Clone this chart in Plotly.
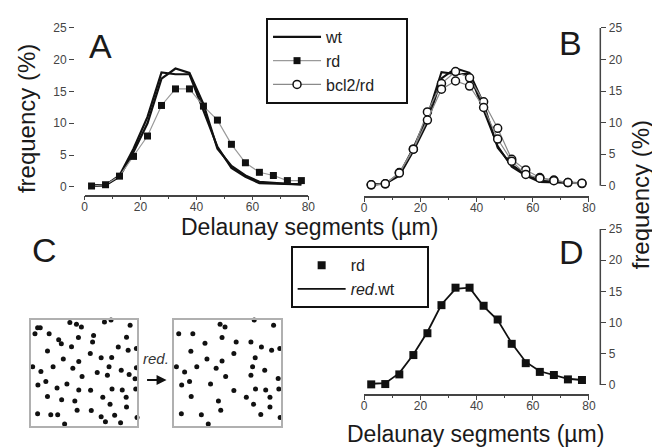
import plotly.graph_objects as go

# The page body keeps an 8px margin, so the figure is drawn 8px in from the
# window's top-left corner; positions below are given in window pixels.
OFF = 8
W, H = 660 - OFF, 448 - OFF


def px(x):
    return (x - OFF) / W


def py(y):
    return 1 - (y - OFF) / H


FONT = "Arial, Liberation Sans, Helvetica, sans-serif"

# ---- data ----
seg_x = [2.5, 7.5, 12.5, 17.5, 22.5, 27.5, 32.5, 37.5,
         42.5, 47.5, 52.5, 57.5, 62.5, 67.5, 72.5, 77.5]

wt_1 = [0.2, 0.3, 1.8, 6.0, 11.0, 18.0, 17.7, 17.7, 12.0, 6.3, 3.0, 1.6, 0.6, 0.5, 0.4, 0.4]
wt_2 = [0.2, 0.3, 1.6, 5.5, 10.0, 17.0, 18.6, 17.9, 13.0, 6.0, 3.3, 1.8, 0.8, 0.6, 0.5, 0.4]

rd_a = [0.15, 0.35, 1.7, 4.8, 8.0, 12.8, 15.4, 15.4, 12.7, 10.5, 6.7, 3.8, 2.3, 1.8, 1.0, 1.0]

bcl2_1 = [0.15, 0.3, 2.1, 5.8, 11.7, 16.2, 18.1, 17.1, 13.3, 9.1, 4.2, 2.5, 1.3, 0.9, 0.5, 0.35]
bcl2_2 = [0.15, 0.3, 2.0, 5.8, 10.4, 15.3, 16.6, 15.8, 12.4, 7.4, 3.9, 1.8, 1.2, 0.8, 0.5, 0.4]

rd_d = [0.1, 0.15, 1.7, 4.8, 8.3, 12.8, 15.6, 15.6, 12.7, 10.5, 6.6, 3.5, 2.1, 1.6, 0.9, 0.8]
red_wt = [0.2, 0.3, 1.9, 4.9, 8.5, 12.9, 15.4, 15.6, 12.6, 10.4, 6.7, 3.7, 2.2, 1.6, 1.0, 0.8]

x_ticks = [0, 20, 40, 60, 80]
x_minor = [10, 30, 50, 70]
y_ticks = [0, 5, 10, 15, 20, 25]

# panel C: cell positions in the two fields (image units, y downwards)
full_x = [33, 41, 25, 68, 131, 151, 166, 236, 256, 314,
          97, 105, 157, 203, 200, 303,
          63, 136, 278, 308, 333,
          193, 226, 258, 111, 158,
          18, 80, 140, 250, 287, 333,
          43, 214, 245, 311, 329, 168,
          58, 122, 34, 92, 158, 194, 259, 290, 331,
          63, 231, 302, 106, 146, 253, 303,
          153, 196, 33, 73, 94, 226, 267, 335,
          239, 285, 115]
full_y = [38, 38, 57, 57, 22, 28, 36, 21, 15, 31,
          75, 87, 68, 62, 82, 67,
          109, 96, 97, 107, 102,
          117, 130, 129, 134, 141,
          157, 157, 162, 157, 168, 160,
          172, 175, 183, 181, 194, 187,
          202, 210, 213, 222, 228, 229, 225, 228, 225,
          248, 250, 250, 258, 262, 272, 280,
          290, 291, 301, 304, 304, 310, 305, 312,
          325, 328, 332]

red_x = [151, 166, 255, 314, 25, 68, 157, 200, 105, 245, 277, 308, 333,
         62, 193, 258, 111, 157, 18, 80, 139, 250, 287, 43, 168, 245, 328,
         58, 122, 34, 193, 259, 290, 330, 63, 231, 303, 146, 253, 303,
         153, 33, 94, 275, 334, 115]
red_y = [28, 36, 15, 31, 57, 57, 68, 82, 86, 82, 97, 107, 102,
         110, 117, 130, 134, 140, 157, 157, 162, 157, 168, 173, 187, 183, 193,
         202, 210, 213, 230, 225, 228, 225, 248, 250, 250, 262, 272, 280,
         290, 301, 304, 303, 312, 332]

fig = go.Figure()

# ---- panel A ----
fig.add_trace(go.Scatter(x=seg_x, y=wt_1, mode="lines", name="wt",
                         line=dict(color="#111", width=2.2),
                         xaxis="x", yaxis="y", legend="legend"))
fig.add_trace(go.Scatter(x=seg_x, y=wt_2, mode="lines", name="wt", showlegend=False,
                         line=dict(color="#111", width=2.2),
                         xaxis="x", yaxis="y"))
fig.add_trace(go.Scatter(x=seg_x, y=rd_a, mode="lines+markers", name="rd",
                         line=dict(color="#9a9a9a", width=1.2),
                         marker=dict(symbol="square", size=7, color="#111"),
                         xaxis="x", yaxis="y", legend="legend", cliponaxis=False))

# ---- panel B ----
fig.add_trace(go.Scatter(x=seg_x, y=wt_1, mode="lines", name="wt", showlegend=False,
                         line=dict(color="#111", width=2),
                         xaxis="x2", yaxis="y2"))
fig.add_trace(go.Scatter(x=seg_x, y=wt_2, mode="lines", name="wt", showlegend=False,
                         line=dict(color="#111", width=2),
                         xaxis="x2", yaxis="y2"))
fig.add_trace(go.Scatter(x=seg_x, y=bcl2_1, mode="lines+markers",
                         name="bcl2/rd\u00a0\u00a0\u00a0\u00a0\u00a0\u00a0",
                         line=dict(color="#8a8a8a", width=1.2),
                         marker=dict(symbol="circle", size=8, color="white",
                                     line=dict(color="#111", width=1.5)),
                         xaxis="x2", yaxis="y2", legend="legend", cliponaxis=False))
fig.add_trace(go.Scatter(x=seg_x, y=bcl2_2, mode="lines+markers", name="bcl2/rd",
                         showlegend=False,
                         line=dict(color="#8a8a8a", width=1.2),
                         marker=dict(symbol="circle", size=8, color="white",
                                     line=dict(color="#111", width=1.5)),
                         xaxis="x2", yaxis="y2", cliponaxis=False))

# ---- panel D ----
fig.add_trace(go.Scatter(x=seg_x, y=rd_d, mode="markers", name="rd",
                         marker=dict(symbol="square", size=8, color="#111"),
                         xaxis="x3", yaxis="y3", legend="legend2", cliponaxis=False))
fig.add_trace(go.Scatter(x=seg_x, y=red_wt, mode="lines",
                         name="<i>red</i>.wt\u00a0\u00a0\u00a0\u00a0\u00a0\u00a0",
                         line=dict(color="#111", width=1.8),
                         xaxis="x3", yaxis="y3", legend="legend2"))

# ---- panel C ----
fig.add_trace(go.Scatter(x=full_x, y=full_y, mode="markers", showlegend=False,
                         marker=dict(size=5, color="#111"),
                         xaxis="x4", yaxis="y4", cliponaxis=False))
fig.add_trace(go.Scatter(x=red_x, y=red_y, mode="markers", showlegend=False,
                         marker=dict(size=5, color="#111"),
                         xaxis="x5", yaxis="y5", cliponaxis=False))

tickfont = dict(family=FONT, size=12, color="#444")


def xaxis(domain, anchor):
    return dict(domain=domain, range=[0, 80], anchor=anchor,
                tickvals=x_ticks, ticks="outside", ticklen=4, tickwidth=1.2,
                tickcolor="#444", showline=True, linecolor="#444", linewidth=1.5,
                showgrid=False, zeroline=False, tickfont=tickfont,
                ticklabelstandoff=-4,
                minor=dict(tickvals=x_minor, ticks="outside", ticklen=2.5,
                           tickcolor="#444", showgrid=False))


def yaxis(domain, rng, pos, side):
    return dict(domain=domain, range=rng, anchor="free", position=pos, side=side,
                tickvals=y_ticks, ticks="outside", ticklen=5, tickwidth=1.2,
                tickcolor="#444", showline=False, showgrid=False, zeroline=False,
                tickfont=tickfont)


def field_axes(domain_x):
    return dict(domain=domain_x, showline=True, mirror=True, linecolor="#b0b0b0",
                linewidth=1.5, showticklabels=False, ticks="", showgrid=False,
                zeroline=False)


fig.update_layout(
    width=W, height=H, autosize=False,
    margin=dict(l=0, r=0, t=0, b=0),
    paper_bgcolor="white", plot_bgcolor="white",
    font=dict(family=FONT, color="#222"),
    xaxis=xaxis([px(82.7), px(310)], "y"),
    yaxis=yaxis([py(190.5), py(21)], [-1.2, 25], px(72), "left"),
    xaxis2=xaxis([px(366.7), px(595)], "y2"),
    yaxis2=yaxis([py(191.7), py(21.2)], [-1.59, 25], px(606.5), "right"),
    xaxis3=xaxis([px(366.7), px(595)], "y3"),
    yaxis3=yaxis([py(393.3), py(225.5)], [-1.47, 25], px(606.5), "right"),
    xaxis4=dict(field_axes([px(28), px(136)]), range=[12, 335], anchor="y4"),
    yaxis4=dict(field_axes([py(425.3), py(317.7)]), range=[337, 14], anchor="x4"),
    xaxis5=dict(field_axes([px(174), px(282)]), range=[12, 336], anchor="y5"),
    yaxis5=dict(field_axes([py(425.3), py(317.7)]), range=[337, 14], anchor="x5"),
    legend=dict(x=px(267), y=py(11), xanchor="left", yanchor="top",
                bordercolor="#111", borderwidth=2, bgcolor="white",
                font=dict(family=FONT, size=16, color="#222"), itemwidth=48,
                tracegroupgap=0),
    legend2=dict(x=px(292), y=py(243), xanchor="left", yanchor="top",
                 bordercolor="#111", borderwidth=2, bgcolor="white",
                 font=dict(family=FONT, size=16, color="#222"), itemwidth=48,
                 tracegroupgap=0),
)

# y-axis lines spanning 0..25 for panels B and D
for yref in ["y2", "y3"]:
    fig.add_shape(type="line", xref="paper", yref=yref,
                  x0=px(606.5), x1=px(606.5), y0=0, y1=25,
                  line=dict(color="#444", width=1.5))

annotations = [
    dict(text="A", x=px(99), y=py(40), size=34),
    dict(text="B", x=px(576), y=py(36), size=34),
    dict(text="C", x=px(42), y=py(247), size=34),
    dict(text="D", x=px(577), y=py(249), size=34),
    dict(text="Delaunay segments (\u00b5m)", x=px(311.5), y=py(223), size=23),
    dict(text="Delaunay segments (\u00b5m)", x=px(480), y=py(434), size=23),
]
for a in annotations:
    fig.add_annotation(text=a["text"], x=a["x"], y=a["y"], xref="paper", yref="paper",
                       xanchor="center", yanchor="middle", showarrow=False,
                       font=dict(family=FONT, size=a["size"], color="#1a1a1a"))

fig.add_annotation(text="frequency (%)", x=px(24), y=py(113), xref="paper", yref="paper",
                   textangle=-90, showarrow=False, xanchor="center", yanchor="middle",
                   font=dict(family=FONT, size=24, color="#1a1a1a"))
fig.add_annotation(text="frequency (%)", x=px(647), y=py(191), xref="paper", yref="paper",
                   textangle=-90, showarrow=False, xanchor="center", yanchor="middle",
                   font=dict(family=FONT, size=24, color="#1a1a1a"))

fig.add_annotation(text="<i>red.</i>", x=px(155.5), y=py(357), xref="paper", yref="paper",
                   showarrow=False, xanchor="center", yanchor="middle",
                   font=dict(family=FONT, size=15, color="#333"))
fig.add_annotation(text="", x=px(166), y=py(379), xref="paper", yref="paper",
                   ax=-21, ay=0, showarrow=True, arrowhead=2, arrowsize=1,
                   arrowwidth=2, arrowcolor="#111")

fig.write_html("out.html")
